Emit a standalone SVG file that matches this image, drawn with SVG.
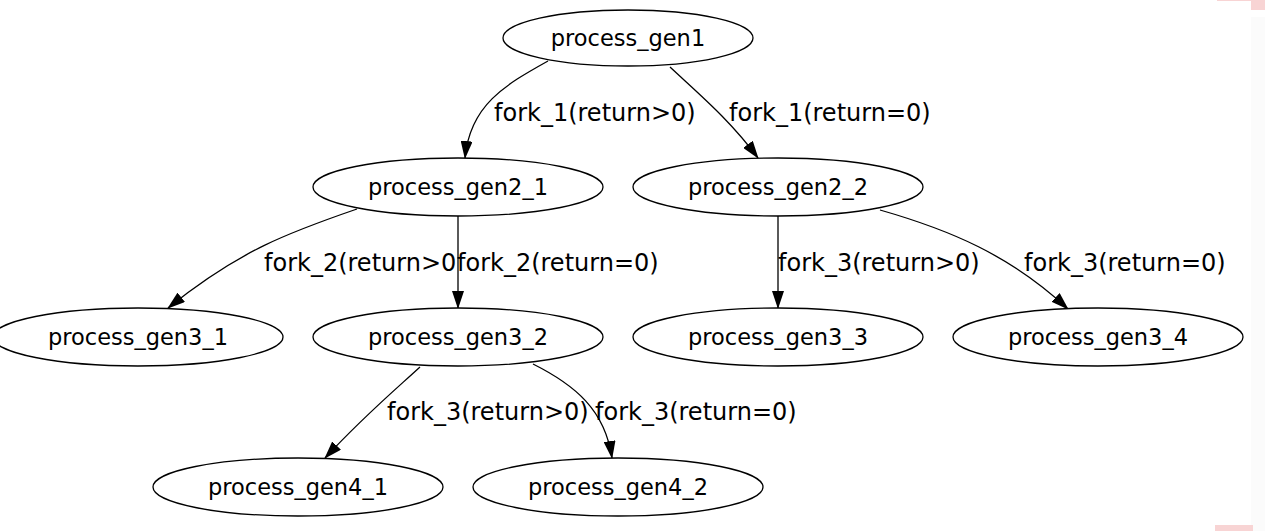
<svg xmlns="http://www.w3.org/2000/svg" width="1265" height="531" viewBox="0 0 1265 531">
<style>
.n ellipse{fill:#fff;stroke:#000;stroke-width:1.3}
text{font-family:"DejaVu Sans","Liberation Sans",sans-serif;font-size:22.5px;fill:#000;text-anchor:middle;dominant-baseline:central}
.e path{fill:none;stroke:#000;stroke-width:1.3;marker-end:url(#ah)}
.lbl text{text-anchor:start;font-size:24px}
</style>
<defs>
<marker id="ah" markerUnits="userSpaceOnUse" markerWidth="18" markerHeight="12" refX="17" refY="6" orient="auto" viewBox="0 0 18 12">
<path d="M0,0 L18,6 L0,12 z" fill="#000"/>
</marker>
</defs>
<rect width="1265" height="531" fill="#fff"/>
<rect x="1251" y="17" width="14" height="514" fill="#fbfbfb"/>
<rect x="1217" y="0" width="48" height="1" fill="#f8d4d4"/>
<rect x="1251" y="0" width="14" height="10" fill="#f8d4d4"/>
<rect x="1215" y="525" width="38" height="6" fill="#f8d4d4"/>
<g id="edges" class="e">
<path d="M548,61 C505,85 470,105 465,158"/>
<path d="M670,67 C700,95 730,120 758,158"/>
<path d="M357,209 C290,232 240,250 168,308"/>
<path d="M458,216 L458,308"/>
<path d="M778,216 L778,308"/>
<path d="M880,210 C950,230 1010,255 1068,309"/>
<path d="M420,367 C395,390 365,415 325,458"/>
<path d="M533,364 C575,385 605,410 612,458"/>
</g>
<g id="edge-labels" class="lbl">
<text x="494" y="113">fork_1(return&gt;0)</text>
<text x="729" y="113">fork_1(return=0)</text>
<text x="264" y="263">fork_2(return&gt;0</text>
<text x="457" y="263">fork_2(return=0)</text>
<text x="778" y="263">fork_3(return&gt;0)</text>
<text x="1024" y="263">fork_3(return=0)</text>
<text x="387" y="412">fork_3(return&gt;0)</text>
<text x="595" y="412">fork_3(return=0)</text>
</g>
<g id="process_gen1" class="n"><ellipse cx="628" cy="38" rx="125" ry="28"/><text x="628" y="38">process_gen1</text></g>
<g id="process_gen2_1" class="n"><ellipse cx="458" cy="187" rx="145" ry="29"/><text x="458" y="187">process_gen2_1</text></g>
<g id="process_gen2_2" class="n"><ellipse cx="778" cy="187" rx="145" ry="29"/><text x="778" y="187">process_gen2_2</text></g>
<g id="process_gen3_1" class="n"><ellipse cx="138" cy="337" rx="145" ry="29"/><text x="138" y="337">process_gen3_1</text></g>
<g id="process_gen3_2" class="n"><ellipse cx="458" cy="337" rx="145" ry="29"/><text x="458" y="337">process_gen3_2</text></g>
<g id="process_gen3_3" class="n"><ellipse cx="778" cy="337" rx="145" ry="29"/><text x="778" y="337">process_gen3_3</text></g>
<g id="process_gen3_4" class="n"><ellipse cx="1098" cy="337" rx="145" ry="29"/><text x="1098" y="337">process_gen3_4</text></g>
<g id="process_gen4_1" class="n"><ellipse cx="298" cy="487" rx="145" ry="29"/><text x="298" y="487">process_gen4_1</text></g>
<g id="process_gen4_2" class="n"><ellipse cx="618" cy="487" rx="145" ry="29"/><text x="618" y="487">process_gen4_2</text></g>
</svg>
